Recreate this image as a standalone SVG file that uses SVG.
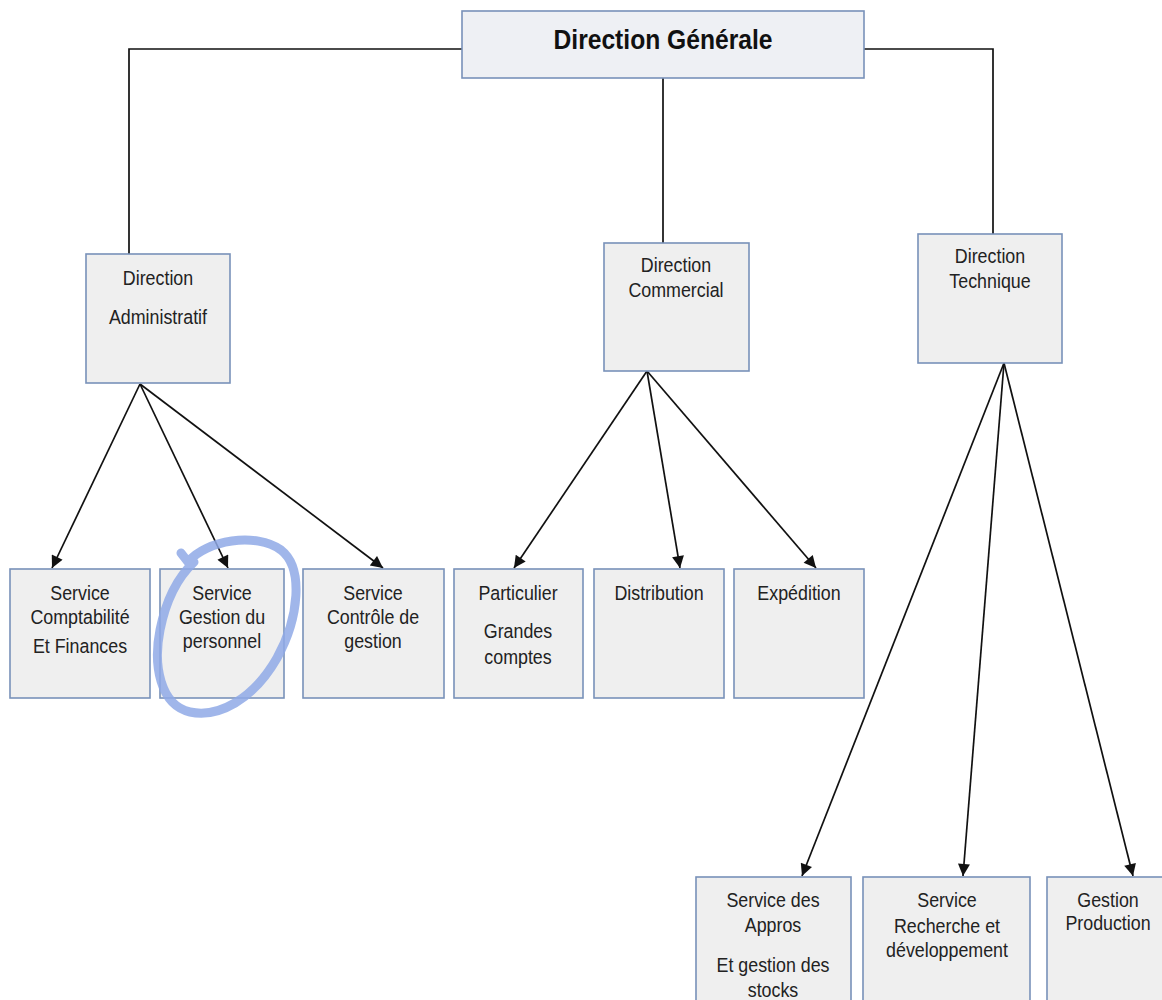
<svg xmlns="http://www.w3.org/2000/svg" width="1162" height="1000" viewBox="0 0 1162 1000">
  <style>
    .box { fill: #efefef; stroke: #7891b9; stroke-width: 1.6; }
    .top { fill: #eef0f4; stroke: #7891b9; stroke-width: 1.6; }
    .lbl { font-family: "Liberation Sans", Arial, sans-serif; font-size: 20.5px; fill: #222; text-anchor: middle; }
    .ttl { font-family: "Liberation Sans", Arial, sans-serif; font-size: 28px; font-weight: bold; fill: #111; text-anchor: middle; }
    .link { fill: none; stroke: #111; stroke-width: 1.7; }
    .arrow { fill: none; stroke: #111; stroke-width: 1.7; marker-end: url(#head); }
    .mark { fill: none; stroke: #8fa9e6; stroke-opacity: 0.85; stroke-width: 9; stroke-linecap: round; stroke-linejoin: round; }
  </style>
  <defs>
    <marker id="head" viewBox="0 0 10 10" refX="10" refY="5" markerUnits="userSpaceOnUse" markerWidth="15" markerHeight="12" orient="auto">
      <path d="M0,0 L10,5 L0,10 z" fill="#111"/>
    </marker>
  </defs>
  <rect width="1162" height="1000" fill="#ffffff"/>

  <!-- connectors -->
  <g id="connectors">
    <path class="link" d="M462,49 H129 V254"/>
    <path class="link" d="M864,49 H993 V234"/>
    <path class="link" d="M663,78 V243"/>
    <line class="arrow" x1="140" y1="384" x2="52" y2="568"/>
    <line class="arrow" x1="140" y1="384" x2="228" y2="568"/>
    <line class="arrow" x1="140" y1="384" x2="383" y2="568"/>
    <line class="arrow" x1="647" y1="371" x2="514" y2="568"/>
    <line class="arrow" x1="647" y1="371" x2="680" y2="568"/>
    <line class="arrow" x1="647" y1="371" x2="816" y2="568"/>
    <line class="arrow" x1="1004" y1="363" x2="802" y2="876"/>
    <line class="arrow" x1="1004" y1="363" x2="963" y2="876"/>
    <line class="arrow" x1="1004" y1="363" x2="1133" y2="876"/>
  </g>

  <g id="direction-generale">
    <rect class="top" x="462" y="11" width="402" height="67"/>
    <text class="ttl" transform="translate(663,49) scale(0.88,1)">Direction Générale</text>
  </g>

  <g id="direction-administratif">
    <rect class="box" x="86" y="254" width="144" height="129"/>
    <text class="lbl" transform="translate(158,285) scale(0.87,1)">Direction</text>
    <text class="lbl" transform="translate(158,324) scale(0.87,1)">Administratif</text>
  </g>

  <g id="direction-commercial">
    <rect class="box" x="604" y="243" width="145" height="128"/>
    <text class="lbl" transform="translate(676,272) scale(0.87,1)">Direction</text>
    <text class="lbl" transform="translate(676,297) scale(0.87,1)">Commercial</text>
  </g>

  <g id="direction-technique">
    <rect class="box" x="918" y="234" width="144" height="129"/>
    <text class="lbl" transform="translate(990,263) scale(0.87,1)">Direction</text>
    <text class="lbl" transform="translate(990,288) scale(0.87,1)">Technique</text>
  </g>

  <g id="service-comptabilite">
    <rect class="box" x="10" y="569" width="140" height="129"/>
    <text class="lbl" transform="translate(80,600) scale(0.87,1)">Service</text>
    <text class="lbl" transform="translate(80,624) scale(0.87,1)">Comptabilité</text>
    <text class="lbl" transform="translate(80,653) scale(0.87,1)">Et Finances</text>
  </g>

  <g id="service-gestion-personnel">
    <rect class="box" x="160" y="569" width="124" height="129"/>
    <text class="lbl" transform="translate(222,600) scale(0.87,1)">Service</text>
    <text class="lbl" transform="translate(222,624) scale(0.87,1)">Gestion du</text>
    <text class="lbl" transform="translate(222,648) scale(0.87,1)">personnel</text>
  </g>

  <g id="service-controle-gestion">
    <rect class="box" x="303" y="569" width="141" height="129"/>
    <text class="lbl" transform="translate(373,600) scale(0.87,1)">Service</text>
    <text class="lbl" transform="translate(373,624) scale(0.87,1)">Contrôle de</text>
    <text class="lbl" transform="translate(373,648) scale(0.87,1)">gestion</text>
  </g>

  <g id="particulier">
    <rect class="box" x="454" y="569" width="129" height="129"/>
    <text class="lbl" transform="translate(518,600) scale(0.87,1)">Particulier</text>
    <text class="lbl" transform="translate(518,638) scale(0.87,1)">Grandes</text>
    <text class="lbl" transform="translate(518,664) scale(0.87,1)">comptes</text>
  </g>

  <g id="distribution">
    <rect class="box" x="594" y="569" width="130" height="129"/>
    <text class="lbl" transform="translate(659,600) scale(0.87,1)">Distribution</text>
  </g>

  <g id="expedition">
    <rect class="box" x="734" y="569" width="130" height="129"/>
    <text class="lbl" transform="translate(799,600) scale(0.87,1)">Expédition</text>
  </g>

  <g id="service-appros">
    <rect class="box" x="696" y="877" width="155" height="140"/>
    <text class="lbl" transform="translate(773,907) scale(0.87,1)">Service des</text>
    <text class="lbl" transform="translate(773,932) scale(0.87,1)">Appros</text>
    <text class="lbl" transform="translate(773,972) scale(0.87,1)">Et gestion des</text>
    <text class="lbl" transform="translate(773,997) scale(0.87,1)">stocks</text>
  </g>

  <g id="service-recherche">
    <rect class="box" x="863" y="877" width="167" height="140"/>
    <text class="lbl" transform="translate(947,907) scale(0.87,1)">Service</text>
    <text class="lbl" transform="translate(947,933) scale(0.87,1)">Recherche et</text>
    <text class="lbl" transform="translate(947,957) scale(0.87,1)">développement</text>
  </g>

  <g id="gestion-production">
    <rect class="box" x="1047" y="877" width="130" height="140"/>
    <text class="lbl" transform="translate(1108,907) scale(0.87,1)">Gestion</text>
    <text class="lbl" transform="translate(1108,930) scale(0.87,1)">Production</text>
  </g>

  <!-- hand-drawn highlight loop -->
  <path class="mark" d="M181,553 L188,562 C206,540 256,532 281,550 C304,568 299,618 277,658 C253,700 218,718 190,712 C160,705 153,665 160,630 C166,600 177,578 194,562"/>
</svg>
